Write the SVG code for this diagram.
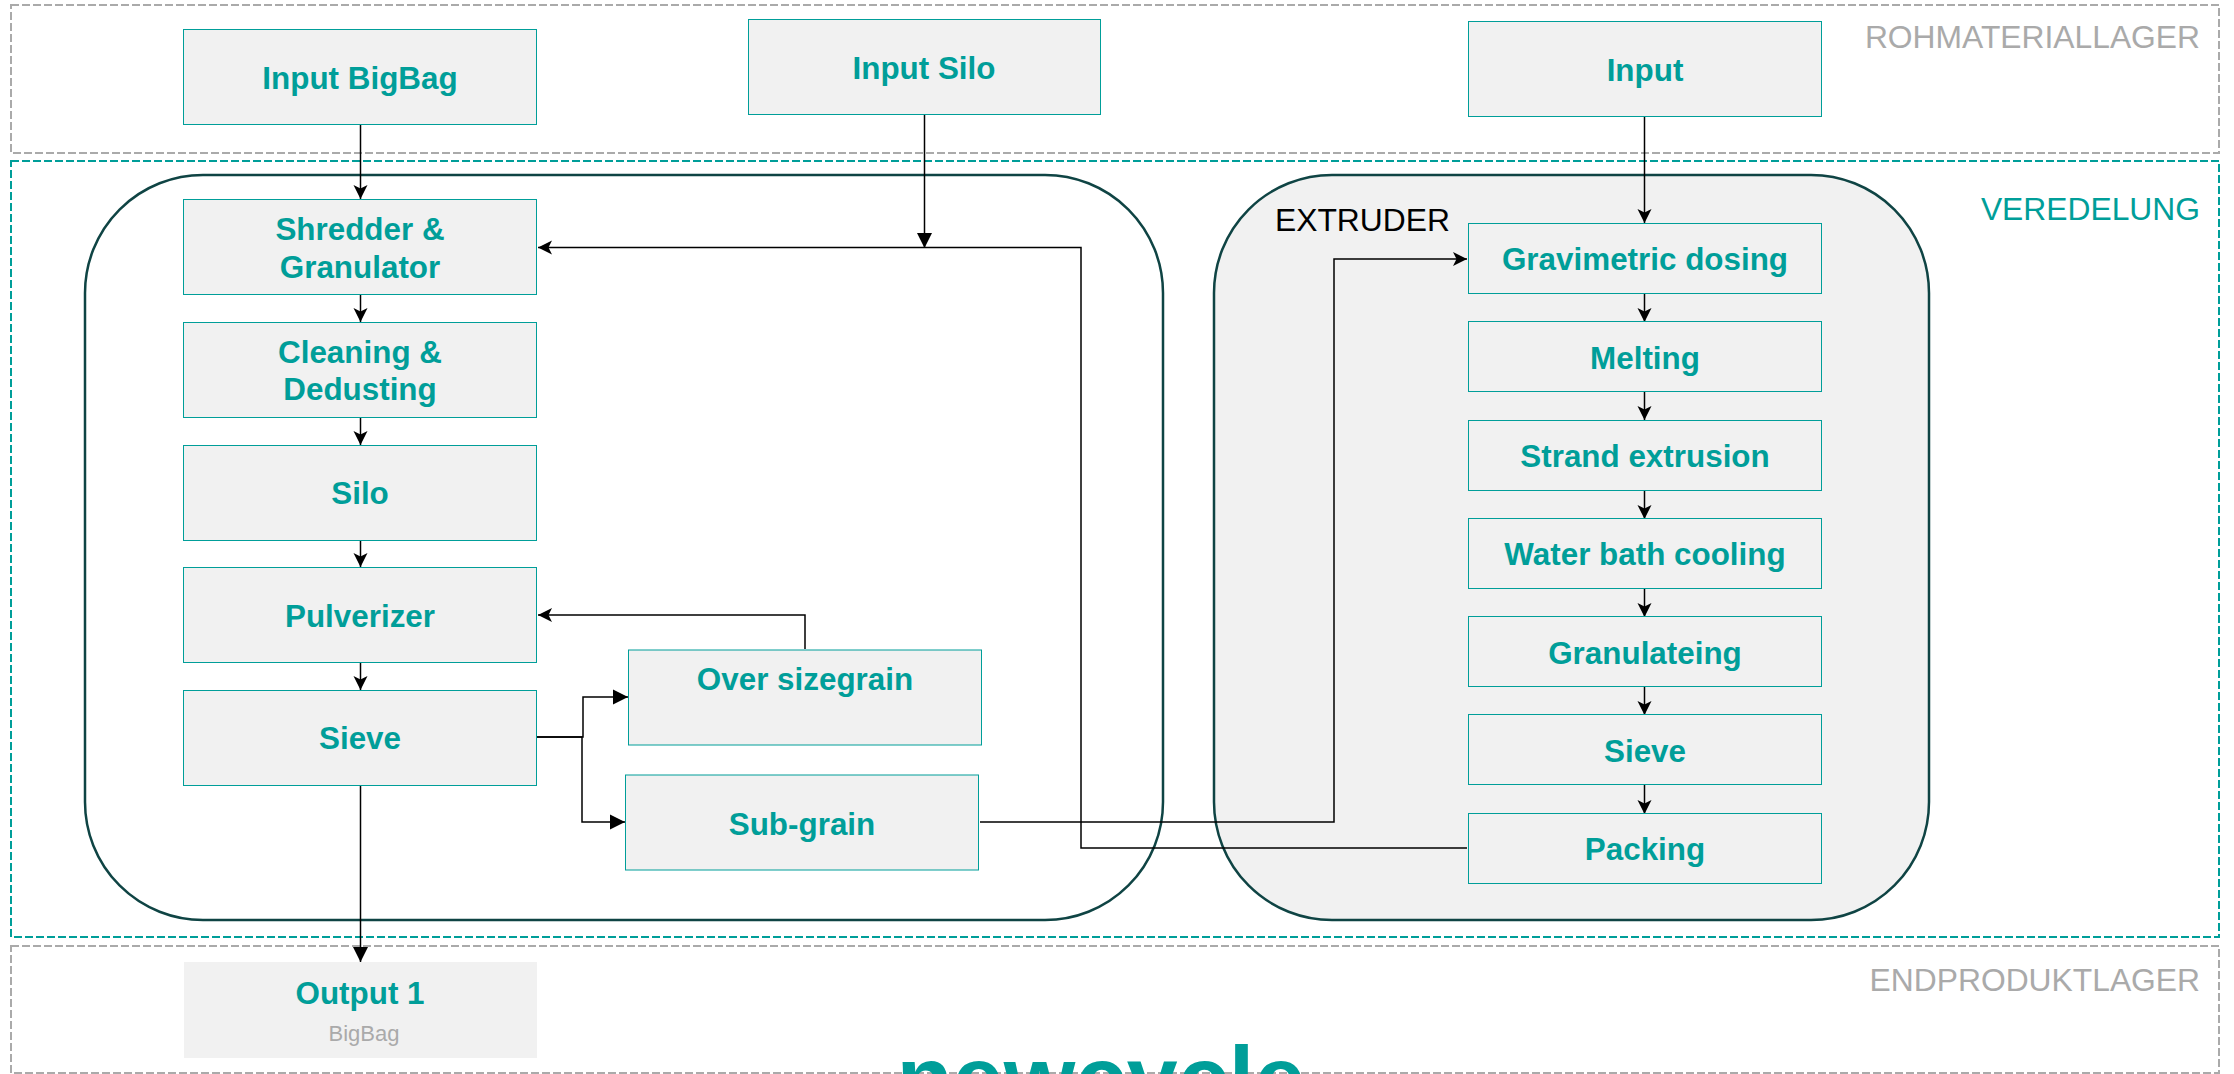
<svg xmlns="http://www.w3.org/2000/svg" width="2234" height="1074" viewBox="0 0 2234 1074">
<defs>
<marker id="open" markerUnits="userSpaceOnUse" markerWidth="16" markerHeight="16" refX="15" refY="8" orient="auto"><path d="M1 1 L15 8 L1 15 L4.500 8 Z" fill="#000"/></marker>
<marker id="block" markerUnits="userSpaceOnUse" markerWidth="16" markerHeight="16" refX="15" refY="8" orient="auto"><path d="M0 0.500 L15 8 L0 15.500 Z" fill="#000"/></marker>
</defs>
<style>
text{font-family:"Liberation Sans",Arial,sans-serif}
.box{fill:#f1f1f1;stroke:#009e99;stroke-width:1}
.t{font-size:31.400px;font-weight:bold;fill:#009e99;text-anchor:middle}
.zone{fill:none;stroke-width:2;stroke-dasharray:8 3}
.z{font-size:31.800px;text-anchor:end}
.group{stroke:#0f4444;stroke-width:2.500}
.c{fill:none;stroke:#000;stroke-width:1.500}
</style>
<rect width="2234" height="1074" fill="#fff"/>
<g id="zones">
<rect class="zone" x="11" y="5" width="2208" height="148" stroke="#aaa"/>
<rect class="zone" x="11" y="161" width="2208" height="776" stroke="#009e99"/>
<rect class="zone" x="11" y="946" width="2208" height="127" stroke="#aaa"/>
<text class="z" x="2200" y="48" fill="#aaa">ROHMATERIALLAGER</text>
<text class="z" x="2200" y="220" fill="#009e99">VEREDELUNG</text>
<text class="z" x="2200" y="991" fill="#aaa">ENDPRODUKTLAGER</text>
</g>
<g id="group-left"><rect class="group" x="85" y="175" width="1078" height="745" rx="118" fill="#fff"/></g>
<g id="group-extruder"><rect class="group" x="1214" y="175" width="715" height="745" rx="118" fill="#f1f1f1"/><text x="1275" y="231" font-size="31.800" fill="#000">EXTRUDER</text></g>
<g id="connectors">
<path class="c" d="M360.500 125V199" marker-end="url(#open)"/>
<path class="c" d="M924.500 115V248" marker-end="url(#block)"/>
<path class="c" d="M1644.500 117V223" marker-end="url(#open)"/>
<path class="c" d="M360.500 295V322" marker-end="url(#open)"/>
<path class="c" d="M360.500 418V445" marker-end="url(#open)"/>
<path class="c" d="M360.500 541V567" marker-end="url(#open)"/>
<path class="c" d="M360.500 663V690" marker-end="url(#open)"/>
<path class="c" d="M360.500 785V962" marker-end="url(#block)"/>
<path class="c" d="M1644.500 294V322" marker-end="url(#open)"/>
<path class="c" d="M1644.500 392V420" marker-end="url(#open)"/>
<path class="c" d="M1644.500 491V519" marker-end="url(#open)"/>
<path class="c" d="M1644.500 589V617" marker-end="url(#open)"/>
<path class="c" d="M1644.500 687V715" marker-end="url(#open)"/>
<path class="c" d="M1644.500 785V814" marker-end="url(#open)"/>
<path class="c" d="M1467 848H1081V247.500H538" marker-end="url(#open)"/>
<path class="c" d="M980 822H1334V259H1467" marker-end="url(#open)"/>
<path class="c" d="M805 649V615H538" marker-end="url(#open)"/>
<path class="c" d="M537 737H583V697H628" marker-end="url(#block)"/>
<path class="c" d="M537 737H582V822H625" marker-end="url(#block)"/>
</g>
<g id="input-bigbag"><rect class="box" x="183.500" y="29.500" width="353" height="95"/><text class="t" x="360" y="89">Input BigBag</text></g>
<g id="input-silo"><rect class="box" x="748.500" y="19.500" width="352" height="95"/><text class="t" x="924" y="79">Input Silo</text></g>
<g id="input"><rect class="box" x="1468.500" y="21.500" width="353" height="95"/><text class="t" x="1645" y="81">Input</text></g>
<g id="shredder"><rect class="box" x="183.500" y="199.500" width="353" height="95"/><text class="t" x="360" y="240">Shredder &amp;</text><text class="t" x="360" y="278">Granulator</text></g>
<g id="cleaning"><rect class="box" x="183.500" y="322.500" width="353" height="95"/><text class="t" x="360" y="363">Cleaning &amp;</text><text class="t" x="360" y="400">Dedusting</text></g>
<g id="silo"><rect class="box" x="183.500" y="445.500" width="353" height="95"/><text class="t" x="360" y="504">Silo</text></g>
<g id="pulverizer"><rect class="box" x="183.500" y="567.500" width="353" height="95"/><text class="t" x="360" y="627">Pulverizer</text></g>
<g id="sieve-left"><rect class="box" x="183.500" y="690.500" width="353" height="95"/><text class="t" x="360" y="749">Sieve</text></g>
<g id="oversize"><rect class="box" x="628.500" y="650" width="353" height="95"/><text class="t" x="805" y="690">Over sizegrain</text></g>
<g id="subgrain"><rect class="box" x="625.500" y="775" width="353" height="95"/><text class="t" x="802" y="835">Sub-grain</text></g>
<g id="dosing"><rect class="box" x="1468.500" y="223.500" width="353" height="70"/><text class="t" x="1645" y="270">Gravimetric dosing</text></g>
<g id="melting"><rect class="box" x="1468.500" y="321.500" width="353" height="70"/><text class="t" x="1645" y="369">Melting</text></g>
<g id="strand"><rect class="box" x="1468.500" y="420.500" width="353" height="70"/><text class="t" x="1645" y="467">Strand extrusion</text></g>
<g id="water"><rect class="box" x="1468.500" y="518.500" width="353" height="70"/><text class="t" x="1645" y="565">Water bath cooling</text></g>
<g id="granulating"><rect class="box" x="1468.500" y="616.500" width="353" height="70"/><text class="t" x="1645" y="664">Granulateing</text></g>
<g id="sieve-right"><rect class="box" x="1468.500" y="714.500" width="353" height="70"/><text class="t" x="1645" y="762">Sieve</text></g>
<g id="packing"><rect class="box" x="1468.500" y="813.500" width="353" height="70"/><text class="t" x="1645" y="860">Packing</text></g>
<g id="output"><rect x="184" y="962" width="353" height="96" fill="#f1f1f1"/><text class="t" x="360" y="1004">Output 1</text><text x="364" y="1041" font-size="22" fill="#aaa" text-anchor="middle">BigBag</text></g>
<text x="1101" y="1111" font-size="92" font-weight="bold" fill="#009e99" text-anchor="middle">newcycle</text>
</svg>
